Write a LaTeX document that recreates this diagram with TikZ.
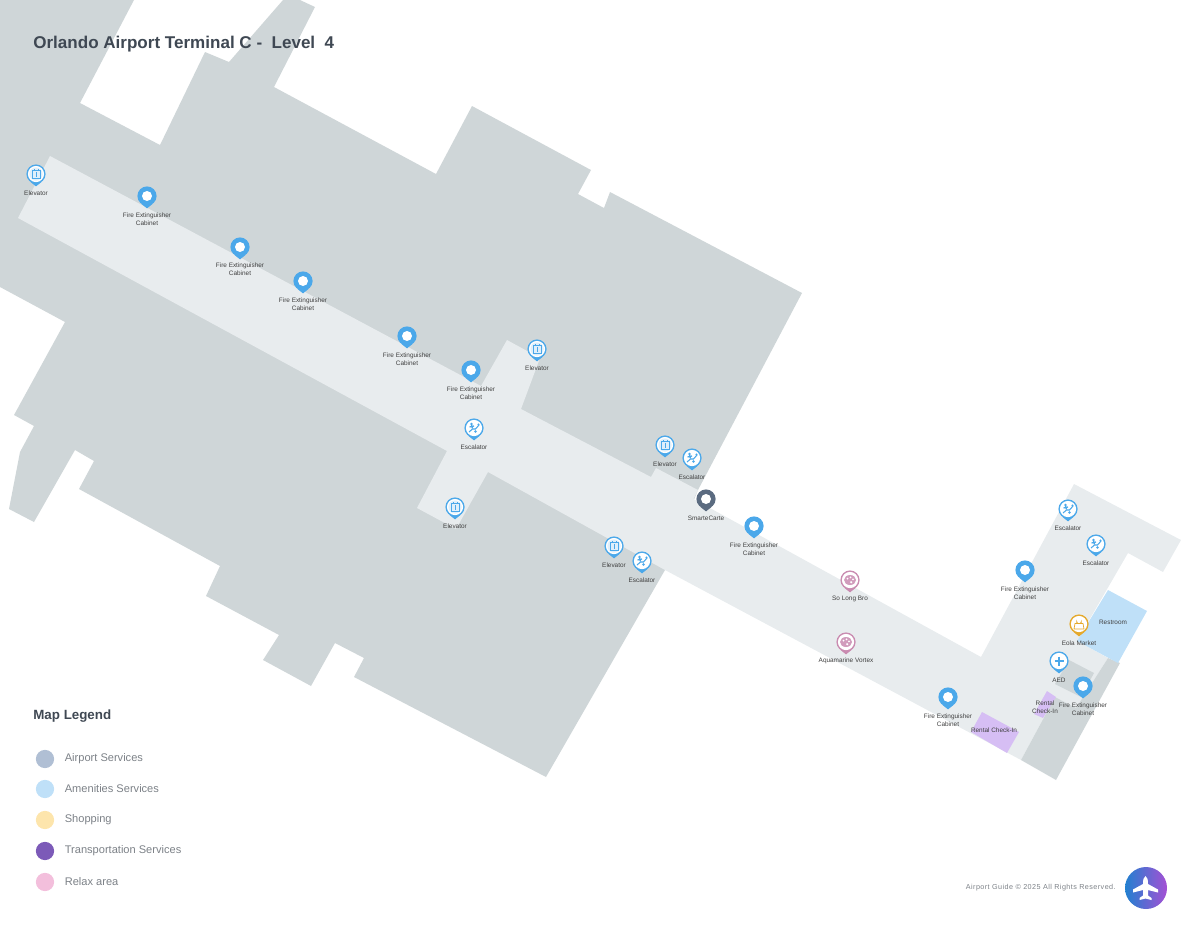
\documentclass[tikz,border=0pt]{standalone}
\usepackage{fontspec}
\setmainfont{Liberation Sans}
\newfontfamily\footfont[LetterSpace=6]{Liberation Sans}
\usetikzlibrary{calc, positioning}
\definecolor{wallgrey}{HTML}{CFD6D8}
\definecolor{floorgrey}{HTML}{E8ECEE}
\definecolor{restblue}{HTML}{BFE0F8}
\definecolor{rentalpurple}{HTML}{D6BEF4}
\definecolor{pinblue}{HTML}{4BA8EA}
\definecolor{pinslate}{HTML}{5B6B80}
\definecolor{pinpink}{HTML}{C98BB0}
\definecolor{pinyellow}{HTML}{E5A92B}
\definecolor{darktext}{HTML}{3F4853}
\definecolor{greytext}{HTML}{7C8187}
\definecolor{airportdotc}{HTML}{B0BFD4}
\definecolor{shopdotc}{HTML}{FDE5AC}
\definecolor{transportdotc}{HTML}{7C5AB8}
\definecolor{relaxdotc}{HTML}{F3BFDC}
\definecolor{logoblue}{HTML}{2280D0}
\definecolor{logopurple}{HTML}{A450D4}
\tikzset{
    maplabel/.style={align=center, inner sep=0pt, text=black!75, font=\fontsize{3.65pt}{4.55pt}\selectfont},
    legendlabel/.style={anchor=west, inner sep=0pt, text=greytext, font=\fontsize{6.3pt}{8pt}\selectfont},
    legenddot/.style={circle, minimum size=10.4pt, inner sep=0pt},
    heading/.style={anchor=west, inner sep=0pt, text=darktext}
}
\newcommand{\pinbody}[1]{
    \fill[#1] (-5.9,7.6) -- (0,12.4) -- (5.9,7.6) -- cycle;
    \fill[#1] (0,0) circle (9.6);}
\newcommand{\solidpin}[2]{\begin{scope}[shift={(#1)}]
    \pinbody{#2}
    \fill[white] (0,0) circle (5);
\end{scope}}
\newcommand{\ringpin}[3]{\begin{scope}[shift={(#1)}]
    \pinbody{#2}
    \fill[white] (0,0) circle (8.1);
    #3
\end{scope}}
\newcommand{\elevatorpin}[1]{\ringpin{#1}{pinblue}{
    \fill[pinblue!18] (0,0) circle (6.6);
    \draw[pinblue, line width=0.35pt] (-4,-3.6) rectangle (4,4.4);
    \draw[pinblue, line width=0.5pt] (0,-1.6) -- (0,3);
    \draw[pinblue, line width=0.4pt] (-2,-3.6) -- (-2,-5) (2,-3.6) -- (2,-5);}}
\newcommand{\escalatorpin}[1]{\ringpin{#1}{pinblue}{
    \draw[pinblue, line width=0.6pt] (-5,4) -- (-1.5,1) -- (1.5,1) -- (5,-3);
    \draw[pinblue, line width=0.7pt] (-2.5,-3) -- (-1.5,0.5) (-4.5,-1) -- (0,-2);
    \fill[pinblue] (-2.5,-4) circle (1.3) (1.5,3.5) circle (1.3) (4.5,-3.5) circle (1.2);}}
\newcommand{\palettepin}[1]{\ringpin{#1}{pinpink}{
    \fill[pinpink!85] (0,0) ellipse (6 and 5);
    \fill[white] (-2.5,-1.5) circle (1) (0.5,-2.6) circle (1) (3,-0.6) circle (1) (1.2,2.2) circle (1.2);}}
\begin{document}
\begin{tikzpicture}[x=0.02cm, y=-0.02cm]
    \useasboundingbox (0,0) rectangle (1200,927);
    % building
    \fill[wallgrey] (0,0) -- (134,0) -- (80,103) -- (160,145) -- (205,52) -- (229,62) -- (283,0) -- (300,0) -- (315,7)
        -- (274,87) -- (436,174) -- (472,106) -- (591,170) -- (578,194) -- (604,208) -- (610,192) -- (802,293)
        -- (698,490) -- (665,570) -- (546,777) -- (354,677) -- (364,658) -- (335,643) -- (311,686) -- (263,660)
        -- (279,635) -- (206,596) -- (220,566) -- (79,489) -- (94,461) -- (75,450) -- (34,522) -- (9,509)
        -- (20,452) -- (34,426) -- (14,415) -- (65,322) -- (0,287) -- cycle;
    % walkway
    \fill[floorgrey] (50,156) -- (481,386) -- (507,340) -- (540,358) -- (521,409) -- (651,477) -- (656,468) -- (698,490)
        -- (693.5,499) -- (981,657) -- (1074,484) -- (1181,540) -- (1163,572) -- (1128,553) -- (1077,641) -- (1108,658)
        -- (1076,708) -- (1055,697) -- (1021,760) -- (665,570) -- (488,472) -- (456,529) -- (417,508) -- (447,451)
        -- (18,218) -- cycle;
    \fill[wallgrey] (1108,658) -- (1120,663) -- (1056,780) -- (1021,760) -- (1055,697) -- (1076,708) -- cycle;
    \fill[wallgrey] (1069,660) -- (1094,673) -- (1081,697) -- (1055,684) -- cycle;
    \fill[restblue] (1108,590) -- (1147,611) -- (1118,663) -- (1077,641) -- cycle;
    \fill[rentalpurple] (982,712) -- (1019,732) -- (1007,753) -- (971,732) -- cycle;
    \fill[rentalpurple] (1047,691) -- (1056,697) -- (1043,718) -- (1034,714) -- cycle;
    % headings
    \node[heading, font=\fontsize{9.7pt}{12pt}\selectfont\bfseries] (title) at (33,44) {Orlando Airport Terminal C -\ \ Level\ \ 4};
    \node[heading, font=\fontsize{7.6pt}{10pt}\selectfont\bfseries] (legend) at (33,716) {Map Legend};
    % pins
    \elevatorpin{36,174}
    \node[maplabel] (elevatorA) at (36,193) {Elevator};
    \solidpin{147,196}{pinblue}
    \node[maplabel] (fireA) at (147,219) {Fire Extinguisher\\Cabinet};
    \solidpin{240,247}{pinblue}
    \node[maplabel] (fireB) at (240,269) {Fire Extinguisher\\Cabinet};
    \solidpin{303,281}{pinblue}
    \node[maplabel] (fireC) at (303,304) {Fire Extinguisher\\Cabinet};
    \solidpin{407,336}{pinblue}
    \node[maplabel] (fireD) at (407,359) {Fire Extinguisher\\Cabinet};
    \solidpin{471,370}{pinblue}
    \node[maplabel] (fireE) at (471,393) {Fire Extinguisher\\Cabinet};
    \elevatorpin{537,349}
    \node[maplabel] (elevatorB) at (537,368) {Elevator};
    \escalatorpin{474,428}
    \node[maplabel] (escalatorA) at (474,447) {Escalator};
    \elevatorpin{455,507}
    \node[maplabel] (elevatorC) at (455,526) {Elevator};
    \elevatorpin{665,445}
    \node[maplabel] (elevatorD) at (665,464) {Elevator};
    \escalatorpin{692,458}
    \node[maplabel] (escalatorB) at (692,477) {Escalator};
    \solidpin{706,499}{pinslate}
    \node[maplabel] (smarte) at (706,518) {SmarteCarte};
    \solidpin{754,526}{pinblue}
    \node[maplabel] (fireF) at (754,549) {Fire Extinguisher\\Cabinet};
    \elevatorpin{614,546}
    \node[maplabel] (elevatorE) at (614,565) {Elevator};
    \escalatorpin{642,561}
    \node[maplabel] (escalatorC) at (642,580) {Escalator};
    \palettepin{850,580}
    \node[maplabel] (solong) at (850,599) {So Long Bro};
    \palettepin{846,642}
    \node[maplabel] (aquamarine) at (846,661) {Aquamarine Vortex};
    \solidpin{948,697}{pinblue}
    \node[maplabel] (fireG) at (948,720) {Fire Extinguisher\\Cabinet};
    \node[maplabel] (rentalA) at (994,730) {Rental Check-In};
    \escalatorpin{1068,509}
    \node[maplabel] (escalatorD) at (1068,528) {Escalator};
    \escalatorpin{1096,544}
    \node[maplabel] (escalatorE) at (1096,563) {Escalator};
    \solidpin{1025,570}{pinblue}
    \node[maplabel] (fireH) at (1025,593) {Fire Extinguisher\\Cabinet};
    \ringpin{1079,624}{pinyellow}{
        \draw[pinyellow, line width=0.4pt] (-4,-0.5) -- (4,-0.5) -- (5,5) -- (-5,5) -- cycle;
        \draw[pinyellow, line width=0.4pt] (-2.3,-0.5) -- (-2.3,-2.6) arc (180:0:2.3) -- (2.3,-0.5);}
    \node[maplabel] (eola) at (1079,643) {Eola Market};
    \node[maplabel] (restroom) at (1113,622) {Restroom};
    \ringpin{1059,661}{pinblue}{
        \draw[pinblue, line width=1.5pt] (-4.5,0) -- (4.5,0) (0,-4.5) -- (0,4.5);}
    \node[maplabel] (aed) at (1059,680) {AED};
    \solidpin{1083,686}{pinblue}
    \node[maplabel] (fireI) at (1083,709) {Fire Extinguisher\\Cabinet};
    \node[maplabel] (rentalB) at (1045,707.5) {Rental\\Check-In};
    % legend
    \node[legenddot, fill=airportdotc] (airportdot) at (45,759) {};
    \node[legendlabel, right=10 of airportdot] (airport) {Airport Services};
    \node[legenddot, fill=restblue] (amenitydot) at (45,789) {};
    \node[legendlabel, right=10 of amenitydot] (amenity) {Amenities Services};
    \node[legenddot, fill=shopdotc] (shopdot) at (45,820) {};
    \node[legendlabel, right=10 of shopdot] (shop) {Shopping};
    \node[legenddot, fill=transportdotc] (transportdot) at (45,851) {};
    \node[legendlabel, right=10 of transportdot] (transport) {Transportation Services};
    \node[legenddot, fill=relaxdotc] (relaxdot) at (45,882) {};
    \node[legendlabel, right=10 of relaxdot] (relax) {Relax area};
    % footer
    \node[anchor=east, inner sep=0pt, text=greytext, font=\footfont\fontsize{4.1pt}{6pt}\selectfont] (footer) at (1116,888) {Airport Guide © 2025 All Rights Reserved.};
    \shade[left color=logoblue, right color=logopurple] (1146,888) circle (21);
    \fill[white] (1145.5,876) .. controls (1147.5,877) and (1148,880) .. (1148,884) -- (1158,889.5) -- (1158,892.5) -- (1148,890)
        -- (1148,895.5) -- (1151.5,898) -- (1151.5,900) -- (1145.5,898.5) -- (1139.5,900) -- (1139.5,898) -- (1143,895.5) -- (1143,890)
        -- (1133,892.5) -- (1133,889.5) -- (1143,884) .. controls (1143,880) and (1143.5,877) .. (1145.5,876) -- cycle;
\end{tikzpicture}
\end{document}
